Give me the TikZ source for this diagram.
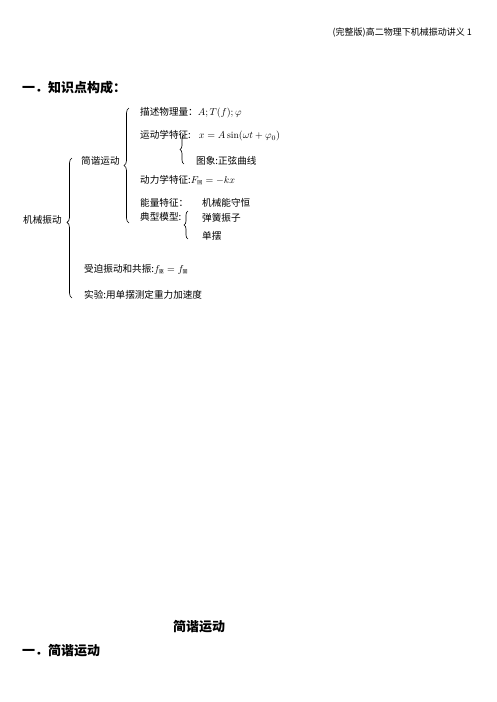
\documentclass[tikz,border=0pt]{standalone}
\usepackage{amsmath}
\usepackage{fontspec}
\newfontfamily\cjk{Noto Sans CJK SC}
\usepackage{tikz}
\usetikzlibrary{decorations.pathreplacing}
\tikzstyle{txt}=[font=\cjk\fontsize{9.6}{11}\selectfont,anchor=west,inner sep=0pt]
\tikzstyle{ttl}=[font=\cjk\bfseries\fontsize{13}{15}\selectfont,inner sep=0pt]
\tikzstyle{brc}=[decorate,decoration={brace,amplitude=5pt},line width=0.65pt]

\begin{document}
\begin{tikzpicture}[x=1pt,y=-1pt]
  \useasboundingbox (0,0) rectangle (496,702);
  \def\xa{140} % entries column
  \def\xb{202} % sub entries column
  % header and title
  \node[txt,anchor=east,font=\cjk\fontsize{9}{10}\selectfont] (header) at (472,33) {(完整版)高二物理下机械振动讲义 1};
  \node[ttl,anchor=west] (title) at (22,88) {一．知识点构成：};
  % left column
  \node[txt] (jxzd) at (23,220) {机械振动};
  \draw[brc,decoration={aspect=0.54}] (72,298) -- (72,158);
  \node[txt] (jxyd) at (81,161) {简谐运动};
  \draw[brc] (129,223) -- (129,108);
  % simple harmonic motion
  \node[txt] (msl) at (\xa,113) {描述物理量：$A;T(f);\varphi$};
  \node[txt] (ydx) at (\xa,136) {运动学特征:\hspace{8pt}$x=A\sin(\omega t+\varphi_0)$};
  \draw[brc,decoration={amplitude=4pt}] (184,164) -- (184,135);
  \node[txt] (tx) at (196,161) {图象:正弦曲线};
  \node[txt] (dlx) at (\xa,180) {动力学特征:$F_{\text{\tiny 回}}=-kx$};
  \node[txt] (nl) at (\xa,203) {能量特征：};
  \node[txt] (shc) at (\xb,203) {机械能守恒};
  \node[txt] (dx) at (\xa,217) {典型模型:};
  \draw[brc,decoration={amplitude=4pt}] (188,239) -- (188,211);
  \node[txt] (thz) at (\xb,218) {弹簧振子};
  \node[txt] (db) at (\xb,236) {单摆};
  % other entries
  \node[txt] (spzd) at (84,269) {受迫振动和共振:$f_{\text{\tiny 驱}}=f_{\text{\tiny 固}}$};
  \node[txt] (sy) at (84,295) {实验:用单摆测定重力加速度};
  % next section
  \node[ttl] (sec) at (199,627) {简谐运动};
  \node[ttl,anchor=west] (sub) at (22,651) {一．简谐运动};
\end{tikzpicture}
\end{document}
